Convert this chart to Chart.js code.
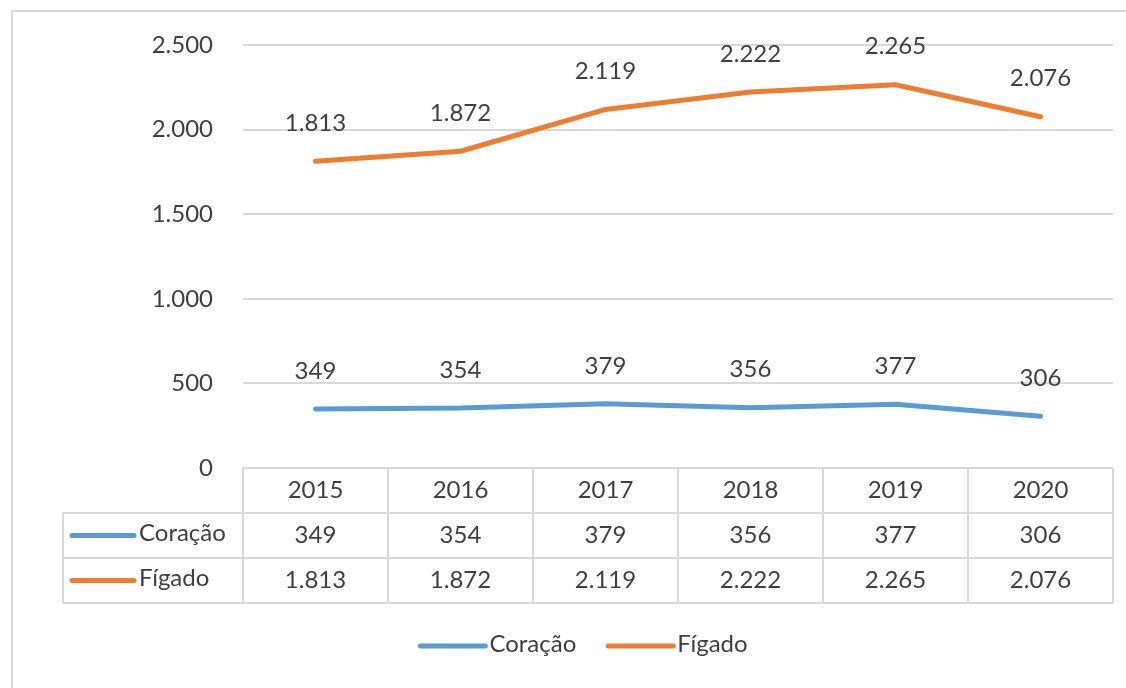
<!DOCTYPE html>
<html>
<head>
<meta charset="utf-8">
<script src="https://cdn.jsdelivr.net/npm/chart.js@4/dist/chart.umd.min.js"></script>
<style>
  html, body { margin: 0; padding: 0; background: #fff; overflow: hidden; }
  #frame { position: absolute; left: 11px; top: 10px; width: 1200px; height: 800px; border: 2px solid #d9d9d9; }
  #wrap { position: absolute; left: 0; top: 0; width: 1126px; height: 688px; }
</style>
</head>
<body>
<div id="frame"></div>
<div id="wrap"><canvas id="myChart" width="1126" height="688"></canvas></div>
<script>
// Chart data
const years = ['2015', '2016', '2017', '2018', '2019', '2020']
const coracao = [349, 354, 379, 356, 377, 306]
const figado = [1813, 1872, 2119, 2222, 2265, 2076]
const seriesNames = ['Coração', 'Fígado']
const seriesColors = ['#5B9BD5', '#ED7D31']

const FONT = 'Lato, "Noto Sans", sans-serif'
const FONT_SIZE = 24
const TEXT_COLOR = '#3f3f3f'
const GRID_COLOR = '#d9d9d9'

function fmt(v) {
    // pt-BR thousands separator
    return v.toLocaleString('pt-BR')
}

// Data labels above each point
const pointLabels = {
    id: 'pointLabels',
    afterDatasetsDraw(chart) {
        const ctx = chart.ctx
        ctx.save()
        ctx.font = FONT_SIZE + 'px ' + FONT
        ctx.fillStyle = TEXT_COLOR
        ctx.textAlign = 'center'
        ctx.textBaseline = 'middle'
        chart.data.datasets.forEach((ds, i) => {
            chart.getDatasetMeta(i).data.forEach((pt, j) => {
                ctx.fillText(fmt(ds.data[j]), pt.x, pt.y - 38)
            })
        })
        ctx.restore()
    }
}

// Excel-like data table under the plot + legend
const dataTable = {
    id: 'dataTable',
    afterDraw(chart) {
        const ctx = chart.ctx
        const x = chart.scales.x
        const area = chart.chartArea
        const half = (x.getPixelForValue(1) - x.getPixelForValue(0)) / 2
        const rowH = 45
        const top = area.bottom
        const left = area.left
        const right = area.right
        const labelLeft = 63

        ctx.save()
        ctx.strokeStyle = GRID_COLOR
        ctx.lineWidth = 2

        // horizontal lines
        ctx.beginPath()
        ctx.moveTo(left, top); ctx.lineTo(right, top)
        for (let r = 1; r <= 3; r++) {
            ctx.moveTo(labelLeft, top + r * rowH); ctx.lineTo(right, top + r * rowH)
        }
        // vertical lines
        for (let i = 0; i <= years.length; i++) {
            const cx = x.getPixelForValue(0) - half + i * 2 * half
            ctx.moveTo(cx, top); ctx.lineTo(cx, top + 3 * rowH)
        }
        ctx.moveTo(labelLeft, top + rowH); ctx.lineTo(labelLeft, top + 3 * rowH)
        ctx.stroke()

        ctx.font = FONT_SIZE + 'px ' + FONT
        ctx.fillStyle = TEXT_COLOR
        ctx.textAlign = 'center'
        ctx.textBaseline = 'middle'
        years.forEach((y, i) => {
            const cx = x.getPixelForValue(i)
            ctx.fillText(y, cx, top + rowH / 2)
            chart.data.datasets.forEach((ds, r) => {
                ctx.fillText(fmt(ds.data[i]), cx, top + rowH * (r + 1.5))
            })
        })

        // row headers with line keys
        chart.data.datasets.forEach((ds, r) => {
            const cy = top + rowH * (r + 1.5)
            ctx.strokeStyle = ds.borderColor
            ctx.lineWidth = 5
            ctx.lineCap = 'round'
            ctx.beginPath()
            ctx.moveTo(72, cy); ctx.lineTo(134, cy)
            ctx.stroke()
            ctx.textAlign = 'left'
            ctx.fillText(ds.label, 139, cy - 2)
        })

        // legend
        const legendY = 646
        const keyLen = 67
        const items = chart.data.datasets.map(ds => {
            return { ds: ds, w: keyLen + 4 + ctx.measureText(ds.label).width }
        })
        const gap = 30
        const total = items.reduce((s, it) => s + it.w, 0) + gap * (items.length - 1)
        let lx = (left + right) / 2 - 95 - total / 2
        items.forEach(it => {
            ctx.strokeStyle = it.ds.borderColor
            ctx.lineWidth = 5
            ctx.lineCap = 'round'
            ctx.beginPath()
            ctx.moveTo(lx + 2, legendY); ctx.lineTo(lx + keyLen, legendY)
            ctx.stroke()
            ctx.textAlign = 'left'
            ctx.fillText(it.ds.label, lx + keyLen + 4, legendY - 2)
            lx += it.w + gap
        })
        ctx.restore()
    }
}

const ctx = document.getElementById('myChart')
new Chart(ctx, {
    type: 'line',
    data: {
        labels: years,
        datasets: [
            {
                label: seriesNames[0],
                data: coracao,
                borderColor: seriesColors[0],
                backgroundColor: seriesColors[0],
                borderWidth: 5,
                borderCapStyle: 'round',
                borderJoinStyle: 'round',
                pointRadius: 0,
                tension: 0
            },
            {
                label: seriesNames[1],
                data: figado,
                borderColor: seriesColors[1],
                backgroundColor: seriesColors[1],
                borderWidth: 5,
                borderCapStyle: 'round',
                borderJoinStyle: 'round',
                pointRadius: 0,
                tension: 0
            }
        ]
    },
    options: {
        responsive: false,
        animation: false,
        layout: { padding: { left: 0, right: 13, top: 45, bottom: 220 } },
        plugins: {
            legend: { display: false },
            tooltip: { enabled: false }
        },
        scales: {
            x: {
                display: false,
                offset: true
            },
            y: {
                min: 0,
                max: 2500,
                ticks: {
                    stepSize: 500,
                    padding: 30,
                    color: TEXT_COLOR,
                    font: { family: FONT, size: FONT_SIZE },
                    callback: v => fmt(v)
                },
                grid: { color: GRID_COLOR, lineWidth: 2, drawTicks: false },
                border: { display: false },
                afterFit: scale => { scale.width = 243 }
            }
        }
    },
    plugins: [pointLabels, dataTable]
})
</script>
</body>
</html>
